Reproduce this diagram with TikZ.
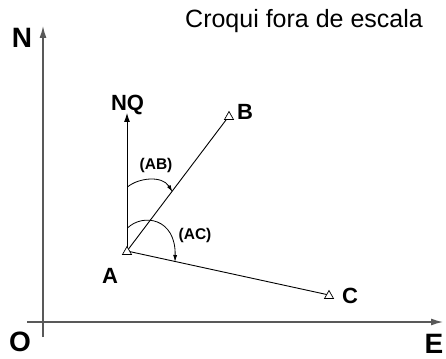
\documentclass[tikz,border=0pt]{standalone}
\usepackage{fontspec}
\setmainfont{Liberation Sans}
\usetikzlibrary{arrows.meta,calc}
\begin{document}
\begin{tikzpicture}[x=1pt,y=-1pt,
  axis/.style={draw=black!65,line width=1.3pt,-{Latex[length=12pt,width=7pt]}},
  seg/.style={draw=black,line width=0.9pt},
  big/.style={anchor=base,inner sep=0pt,font=\bfseries\fontsize{28}{28}\selectfont},
  lab/.style={anchor=base,inner sep=0pt,font=\bfseries\fontsize{22}{22}\selectfont},
  ang/.style={anchor=base,inner sep=0pt,font=\bfseries\fontsize{15.5}{15.5}\selectfont},
  arcarr/.style={draw=black,line width=0.8pt,-{Latex[length=7pt,width=4pt]}}]
\useasboundingbox (0,0) rectangle (446,358);
% axes
\coordinate (Nb) at (43,337);
\coordinate (Nt) at (43,26);
\coordinate (Ol) at (27,322);
\coordinate (Er) at (443,322);
\draw[axis] (Nb) -- (Nt);
\draw[axis] (Ol) -- (Er);
\node[big] (N) at (22,48) {N};
\node[big] (O) at (20,351) {O};
\node[big] (E) at (434,353) {E};
\node[font=\fontsize{25}{25}\selectfont,anchor=base west,inner sep=0pt] (title) at (185,28) {Croqui fora de escala};
% points
\coordinate (A) at (127,251);
\coordinate (B) at (229,116);
\coordinate (C) at (329,295);
\coordinate (NQ) at (127,113);
\draw[seg] (A) -- (B);
\draw[seg] (A) -- (C);
\draw[draw=black,line width=0.9pt,-{Latex[length=9pt,width=6pt]}] (A) -- (NQ);
\node[lab] (NQl) at (127.5,111) {NQ};
\node[lab] (Al) at (110,283) {A};
\node[lab] (Bl) at (245,120) {B};
\node[lab] (Cl) at (350,303) {C};
% triangles (stations)
\foreach \p in {A,B,C}{
  \draw[line width=0.7pt,fill=white] ($(\p)+(0,-4.5)$) -- ($(\p)+(4.5,3.5)$) -- ($(\p)+(-4.5,3.5)$) -- cycle;
}
% angle arcs
\coordinate (ab0) at (127.5,187);
\coordinate (ab1) at (172.5,192);
\draw[arcarr] (ab0) .. controls (138,178) and (162,175) .. (ab1);
\coordinate (ac0) at (127.5,228);
\coordinate (ac1) at (175,262);
\draw[arcarr] (ac0) .. controls (143,213) and (176,218) .. (ac1);
\node[ang] (ABl) at (156,169.5) {(AB)};
\node[ang] (ACl) at (195,239.5) {(AC)};
\end{tikzpicture}
\end{document}
